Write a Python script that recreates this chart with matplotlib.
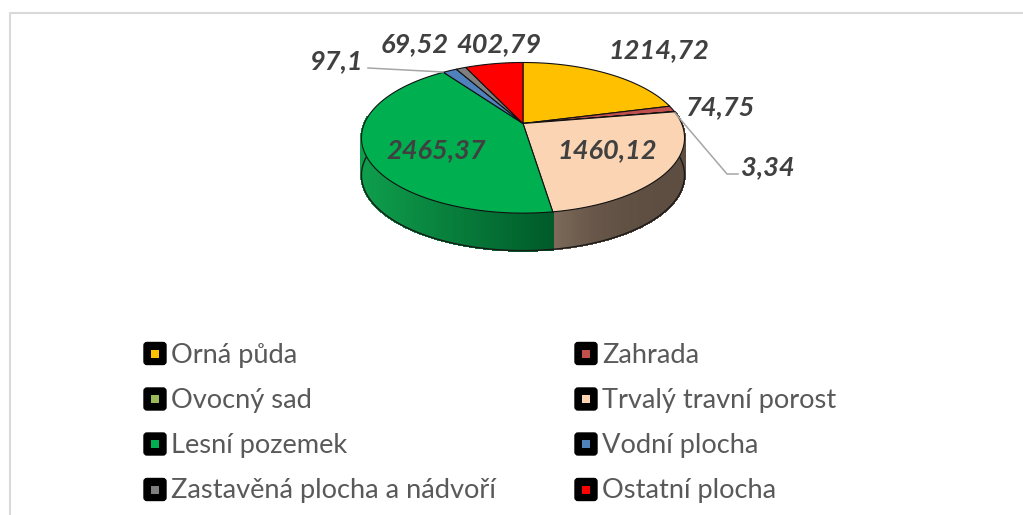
import numpy as np
import matplotlib
matplotlib.use("Agg")
from matplotlib import pyplot as plt
from matplotlib.patches import FancyBboxPatch, Rectangle

labels = ["Orná půda", "Zahrada", "Ovocný sad", "Trvalý travní porost",
          "Lesní pozemek", "Vodní plocha", "Zastavěná plocha a nádvoří", "Ostatní plocha"]
values = [1214.72, 74.75, 3.34, 1460.12, 2465.37, 97.1, 69.52, 402.79]
value_texts = ["1214,72", "74,75", "3,34", "1460,12", "2465,37", "97,1", "69,52", "402,79"]
colors = ["#FFC000", "#C0504D", "#9BBB59", "#FBD4B4", "#00B050", "#4F81BD", "#7F7F7F", "#FF0000"]

plt.rcParams['font.family'] = ['Lato', 'DejaVu Sans']

fig = plt.figure(figsize=(10.23, 5.15), dpi=100)
ax = fig.add_axes([0, 0, 1, 1])
ax.set_xlim(0, 1023)
ax.set_ylim(515, 0)
ax.axis("off")

# tilted pie, apex is off the ellipse centre because of perspective
cx, cy = 523, 123.5
a, b, k = 158.6, 72.6, 0.19
depth = 37.5
wall_start, wall_end = 1.37, 2 * np.pi * 0.75 + 0.1


def rim(theta):
    u, v = np.sin(theta), np.cos(theta)
    w = 1 + k * v
    return cx + a * u / w, cy - b * v / w


def mix(c1, c2, t):
    c1 = np.array(matplotlib.colors.to_rgb(c1))
    c2 = np.array(matplotlib.colors.to_rgb(c2))
    return c1 + (c2 - c1) * t


edges = 2 * np.pi * np.concatenate([[0], np.cumsum(values)]) / sum(values)

# side wall, only the front half is seen
side_shades = {3: ("#5E4E41", "#7E6B5B"), 4: ("#005A29", "#0E9E4C")}
for i in side_shades:
    th = np.linspace(max(edges[i], wall_start), min(edges[i + 1], wall_end), 90)
    for t0, t1 in zip(th[:-1], th[1:]):
        x0, y0 = rim(t0)
        x1, y1 = rim(t1)
        xm = (x0 + x1) / 2
        if i == 3:
            f = ((685 - xm) / (685 - 552)) ** 3
        else:
            f = (552 - xm) / (552 - 362)
        ax.fill([x0, x1, x1, x0], [y0, y1, y1 + depth, y0 + depth],
                color=mix(*side_shades[i], f), lw=1, antialiased=False, zorder=1)

# outline of the wall
th = np.linspace(wall_start, wall_end, 300)
x, y = rim(th)
ax.plot(x, y + depth, color="#1a1a1a", lw=1, zorder=2)
for t in (wall_start, wall_end):
    px, py = rim(t)
    ax.plot([px, px], [py, py + depth], color="#1a1a1a", lw=0.6, zorder=2)

# top face
for i, c in enumerate(colors):
    th = np.linspace(edges[i], edges[i + 1], 120)
    x, y = rim(th)
    ax.fill(np.r_[cx, x], np.r_[cy, y], facecolor=c, edgecolor="#111111", lw=0.8,
            joinstyle="round", zorder=3)

# value labels
label_pos = [(658.5, 58), (720.5, 115), (767.5, 175), (607, 158), (436, 158),
             (337, 69), (415, 52), (498.5, 52)]
for s, (px, py), in zip(value_texts, label_pos):
    ax.text(px, py, s, fontsize=19.5, fontweight="bold", fontstyle="italic",
            color="#404040", ha="center", va="baseline", zorder=5)

# leader lines
ax.plot([368, 443], [68, 72], color="#A6A6A6", lw=1.1, zorder=4)
ax.plot([675, 727, 738], [113, 174, 174], color="#A6A6A6", lw=1.1, zorder=4)

# legend
left_x, right_x = 143, 574
rows_y = [353.5, 399, 444, 489.5]
text_y = [363, 408, 453, 498]
for n, (name, c) in enumerate(zip(labels, colors)):
    lx = left_x if n % 2 == 0 else right_x
    ly = rows_y[n // 2]
    ax.add_patch(FancyBboxPatch((lx + 1, ly - 11), 22, 22, boxstyle="round,pad=0,rounding_size=3",
                                fc="black", ec="black", lw=1, zorder=4))
    ax.add_patch(Rectangle((lx + 8, ly - 4), 8, 8, fc=c, ec="none", zorder=5))
    ax.text(lx + 28, text_y[n // 2], name, fontsize=19.6, color="#595959",
            va="baseline", ha="left", zorder=5)

# chart frame
ax.plot([10, 10, 1023], [515, 13, 13], color="#D9D9D9", lw=1.5, zorder=0)

fig.savefig("out.png", dpi=100)
